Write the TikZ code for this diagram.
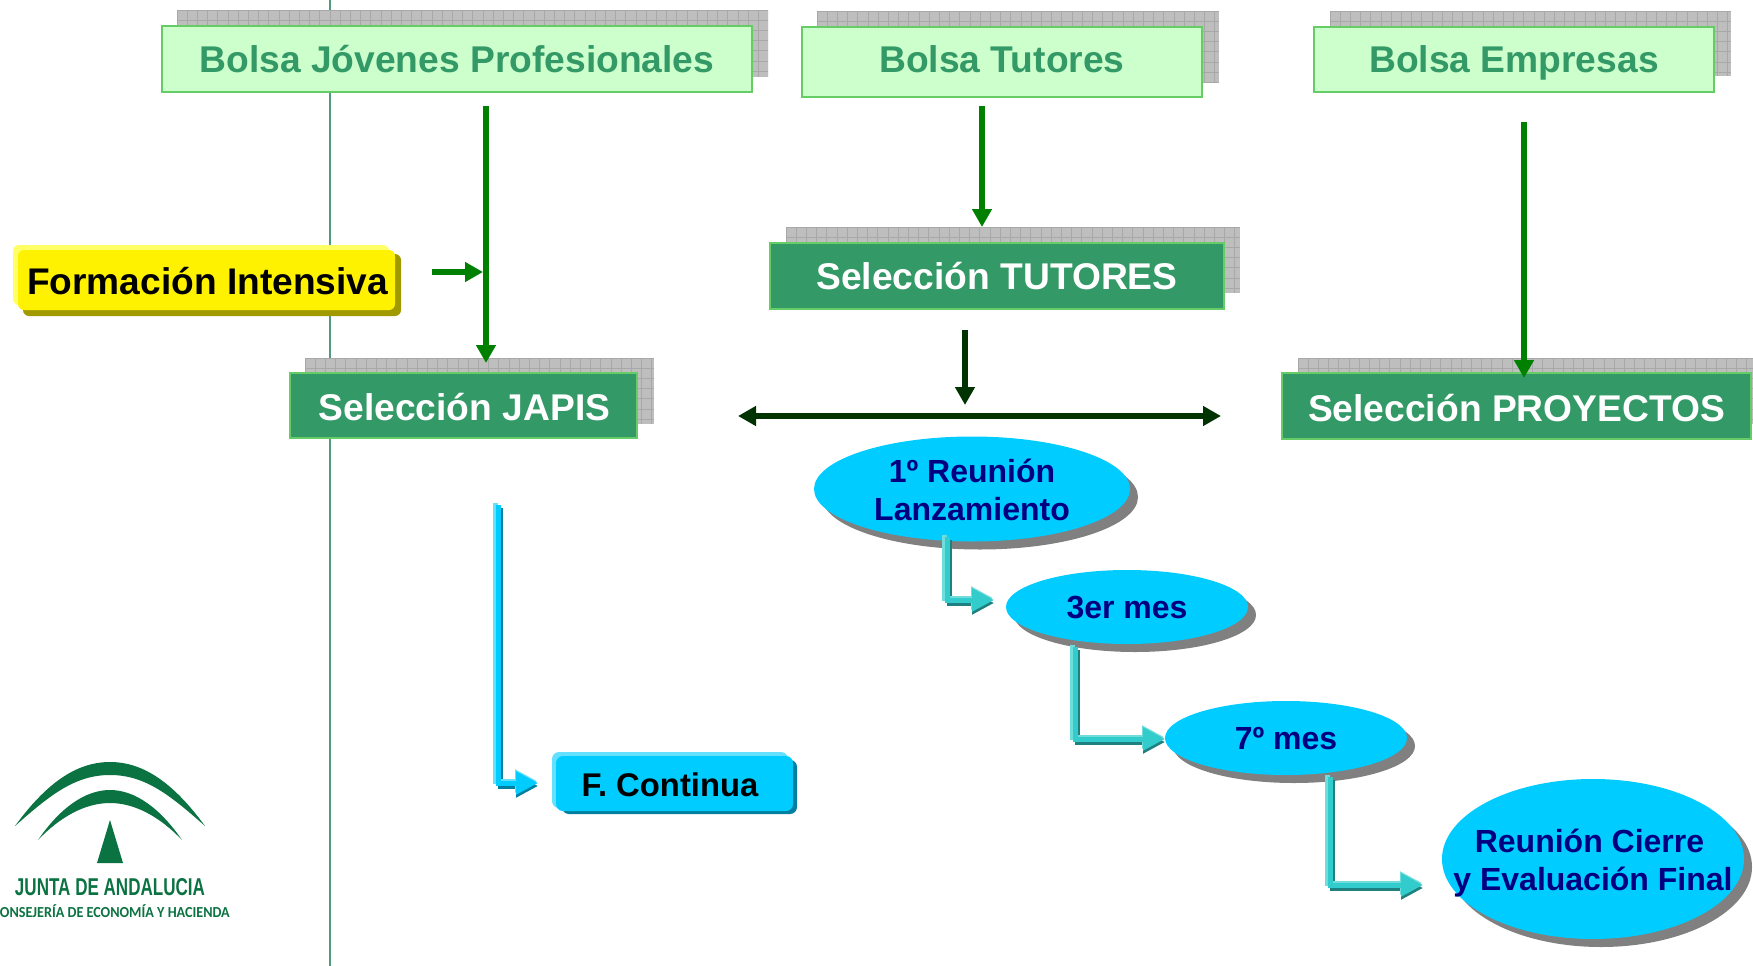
\documentclass[tikz,border=0pt]{standalone}
\usepackage{fontspec}
\setmainfont{Liberation Sans}
\newfontfamily\logofont{Carlito}
\usetikzlibrary{shapes.geometric,arrows.meta}
\definecolor{shadowgrey}{HTML}{BEBEBE}
\definecolor{gridgrey}{HTML}{A8A8A8}
\definecolor{palegreen}{HTML}{CCFFCC}
\definecolor{edgegreen}{HTML}{66CC66}
\definecolor{seagreen}{HTML}{339966}
\definecolor{linegreen}{HTML}{4F9B7C}
\definecolor{arrowgreen}{HTML}{008000}
\definecolor{darkarrow}{HTML}{003300}
\definecolor{skyface}{HTML}{00CCFF}
\definecolor{skylight}{HTML}{66E0FF}
\definecolor{skydark}{HTML}{007FA0}
\definecolor{tealface}{HTML}{33CCCC}
\definecolor{teallight}{HTML}{70DCDC}
\definecolor{tealdark}{HTML}{1F8080}
\definecolor{navytext}{HTML}{000080}
\definecolor{shadowell}{HTML}{808080}
\definecolor{logogreen}{HTML}{0B7242}
\definecolor{yellowlight}{HTML}{FFFF66}
\definecolor{yellowdark}{HTML}{A09A00}
\newcommand{\hatched}[4]{%
  \fill[shadowgrey] (#1,#2) rectangle (#3,#4);
  \begin{scope}
    \clip (#1,#2) rectangle (#3,#4);
    \foreach \gx in {0,10.2,...,600} {\draw[gridgrey,line width=.7pt] ({#1+\gx},#2) -- ({#1+\gx},#4);}
    \foreach \gy in {0,10.2,...,90} {\draw[gridgrey,line width=.7pt] (#1,{#2+\gy}) -- (#3,{#2+\gy});}
  \end{scope}}
\newcommand{\lconn}[5]{% start, end, light, main, dark
  \draw[#5,line width=5pt,-{Triangle[length=22pt,width=22pt]}] ([shift={(2.5,3)}]#1) |- ([shift={(0,3)}]#2);
  \draw[#3,line width=5pt,-{Triangle[length=22pt,width=22pt]}] ([shift={(-2.5,-2)}]#1) |- ([shift={(-1,-2)}]#2);
  \draw[#4,line width=5pt,-{Triangle[length=22pt,width=22pt]}] (#1) |- (#2);}
\tikzset{
  x=1pt,y=-1pt,
  palebox/.style={draw=edgegreen,line width=2pt,fill=palegreen,anchor=center,inner sep=0pt},
  darkbox/.style={draw=edgegreen,line width=2pt,fill=seagreen,anchor=center,inner sep=0pt},
  paletext/.style={text=seagreen,inner sep=0pt,anchor=base,font=\fontsize{37.2}{40}\selectfont\bfseries},
  darktext/.style={text=white,inner sep=0pt,anchor=base,font=\fontsize{37.2}{40}\selectfont\bfseries},
  greenarrow/.style={draw=arrowgreen,line width=6pt,-{Triangle[length=18pt,width=19pt]}},
  blackarrow/.style={draw=darkarrow,line width=6pt,-{Triangle[length=18pt,width=19pt]}},
  ellface/.style={ellipse,fill=skyface,inner sep=0pt},
  elltext/.style={inner sep=0pt,text=navytext,align=center,font=\fontsize{32}{38}\selectfont\bfseries},
  ellshadow/.style={ellipse,fill=shadowell,inner sep=0pt},
}
\begin{document}
\begin{tikzpicture}
\useasboundingbox (0,0) rectangle (1753,966);
% long vertical rule
\coordinate (rulet) at (330,0);
\coordinate (ruleb) at (330,966);
\draw[linegreen,line width=2pt] (rulet) -- (ruleb);
% hatched shadows
\hatched{177}{10}{768}{77}
\hatched{817}{11}{1219}{82}
\hatched{1330}{11}{1731}{76}
\hatched{786}{227}{1240}{293}
\hatched{305}{358}{654}{424}
\hatched{1298}{358}{1753}{424}
% boxes
\node[palebox,minimum width=590pt,minimum height=66pt] (bjp) at (457,59) {};
\node[paletext] (bjpt) at (457,73) {Bolsa Jóvenes Profesionales};
\node[palebox,minimum width=400pt,minimum height=70pt] (btu) at (1002,62) {};
\node[paletext] (btut) at (1002,73) {Bolsa Tutores};
\node[palebox,minimum width=400pt,minimum height=65pt] (bem) at (1514,59.5) {};
\node[paletext] (bemt) at (1514,72.7) {Bolsa Empresas};
\node[darkbox,minimum width=454pt,minimum height=66pt] (stu) at (997,276) {};
\node[darktext] (stut) at (997,289.3) {Selección TUTORES};
\node[darkbox,minimum width=347pt,minimum height=65pt] (sja) at (463.5,405.5) {};
\node[darktext] (sjat) at (464.5,420) {Selección JAPIS};
\node[darkbox,minimum width=469pt,minimum height=66pt] (spr) at (1516.5,406) {};
\node[darktext] (sprt) at (1516.5,421) {Selección PROYECTOS};
% yellow 3D box
\fill[rounded corners=6pt,yellowlight] (13,245) rectangle (389,305);
\fill[rounded corners=6pt,yellowdark] (23,254) rectangle (401,316);
\node[fill=yellow,rounded corners=6pt,minimum width=377pt,minimum height=60pt,inner sep=0pt] (fin) at (206.5,280) {};
\node[inner sep=0pt,anchor=base,text=black,font=\fontsize{37.1}{40}\selectfont\bfseries] (fint) at (207.5,294) {Formación Intensiva};
% blue 3D box
\fill[rounded corners=7pt,skylight] (552,752) rectangle (788,808);
\fill[rounded corners=7pt,skydark] (562,760) rectangle (797,814);
\node[fill=skyface,rounded corners=7pt,minimum width=237pt,minimum height=55pt,inner sep=0pt] (fco) at (674.5,783.5) {};
\node[inner sep=0pt,anchor=base,text=black,font=\fontsize{32.8}{38}\selectfont\bfseries] (fcot) at (670,796) {F. Continua};
% ellipses
\node[ellshadow,minimum width=316pt,minimum height=105pt] (e1s) at (980,497) {};
\node[ellface,minimum width=316pt,minimum height=105pt] (e1) at (972,489) {};
\node[elltext] (e1t) at (972,489.7) {1º Reunión\\Lanzamiento};
\node[ellshadow,minimum width=242pt,minimum height=74pt] (e2s) at (1135,615) {};
\node[ellface,minimum width=242pt,minimum height=74pt] (e2) at (1127,607) {};
\node[elltext] (e2t) at (1127,608) {3er mes};
\node[ellshadow,minimum width=242pt,minimum height=74pt] (e3s) at (1294,746) {};
\node[ellface,minimum width=242pt,minimum height=74pt] (e3) at (1286,738) {};
\node[elltext] (e3t) at (1286,739) {7º mes};
\node[ellshadow,minimum width=302pt,minimum height=160pt] (e4s) at (1601,867) {};
\node[ellface,minimum width=302pt,minimum height=160pt] (e4) at (1593,859) {};
\node[elltext] (e4t) at (1593,863.5) {Reunión Cierre\hspace*{7pt}\null\\y Evaluación Final};
% green arrows
\coordinate (a1s) at (486,106);
\coordinate (a1e) at (486,363);
\draw[greenarrow] (a1s) -- (a1e);
\coordinate (a2s) at (982,106);
\coordinate (a2e) at (982,227);
\draw[greenarrow] (a2s) -- (a2e);
\coordinate (a3s) at (1524,122);
\coordinate (a3e) at (1524,378);
\draw[greenarrow] (a3s) -- (a3e);
\coordinate (a4s) at (432,272);
\coordinate (a4e) at (483,272);
\draw[greenarrow] (a4s) -- (a4e);
% dark arrows
\coordinate (a5s) at (965,330);
\coordinate (a5e) at (965,405);
\draw[blackarrow] (a5s) -- (a5e);
\coordinate (a6l) at (738,416);
\coordinate (a6r) at (1221,416);
\draw[blackarrow,{Triangle[length=18pt,width=19pt]}-{Triangle[length=18pt,width=19pt]}] (a6l) -- (a6r);
% 3D connectors
\coordinate (c0s) at (498,505);
\coordinate (c0e) at (538,783);
\lconn{c0s}{c0e}{skylight}{skyface}{skydark}
\coordinate (c1s) at (947,537);
\coordinate (c1e) at (994,600);
\lconn{c1s}{c1e}{teallight}{tealface}{tealdark}
\coordinate (c2s) at (1075,647);
\coordinate (c2e) at (1165,739);
\lconn{c2s}{c2e}{teallight}{tealface}{tealdark}
\coordinate (c3s) at (1330,777);
\coordinate (c3e) at (1423,885);
\lconn{c3s}{c3e}{teallight}{tealface}{tealdark}
% logo
\fill[logogreen] (15,826) .. controls (45,785) and (75,762) .. (110,762) .. controls (145,762) and (175,785) .. (205,826) .. controls (170,795) and (145,775) .. (110,775) .. controls (75,775) and (50,795) .. (15,826) -- cycle;
\fill[logogreen] (38,840) .. controls (60,808) and (85,790) .. (110,790) .. controls (135,790) and (160,808) .. (182,840) .. controls (160,817) and (135,803) .. (110,803) .. controls (85,803) and (60,817) .. (38,840) -- cycle;
\fill[logogreen] (110,820) -- (123,863) -- (97,863) -- cycle;
\node[inner sep=0pt,text=logogreen,font=\bfseries] (lg1) at (110,887) {\resizebox{190pt}{17pt}{JUNTA DE ANDALUCIA}};
\node[inner sep=0pt,anchor=east,text=logogreen,font=\logofont\bfseries\fontsize{15.3}{17}\selectfont] (lg2) at (230,911) {\scalebox{.926}[1]{CONSEJERÍA DE ECONOMÍA Y HACIENDA}};
\end{tikzpicture}
\end{document}
